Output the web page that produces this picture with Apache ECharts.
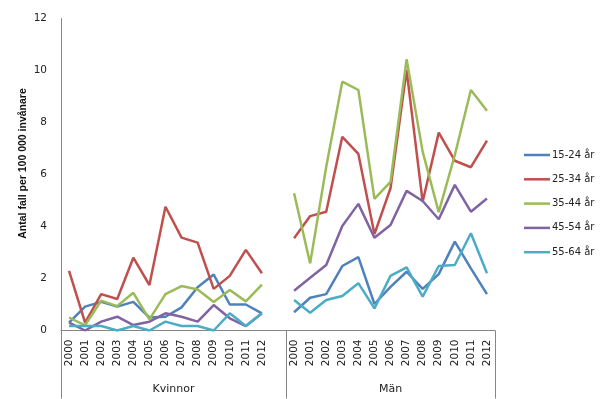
<!DOCTYPE html>
<html>
<head>
<meta charset="utf-8">
<script src="https://cdn.jsdelivr.net/npm/echarts@6/dist/echarts.min.js"></script>
<style>
  html, body { margin: 0; padding: 0; background: #fff; }
  #chart { width: 609px; height: 399px; }
</style>
</head>
<body>
<div id="chart"></div>
<script>
// years per group, a blank slot separates Kvinnor from Män
var years = ['2000','2001','2002','2003','2004','2005','2006','2007','2008','2009','2010','2011','2012']
var categories = years.concat(['']).concat(years)
var groupNames = ['Kvinnor', 'Män']
var seriesNames = ['15-24 år', '25-34 år', '35-44 år', '45-54 år', '55-64 år']
var yTicks = [0, 2, 4, 6, 8, 10, 12]

// Kvinnor 2000-2012
var k1524 = [0.3, 0.92, 1.1, 0.92, 1.1, 0.5, 0.53, 0.89, 1.66, 2.15, 1.0, 1.0, 0.66]
var k2534 = [2.29, 0.3, 1.4, 1.21, 2.8, 1.75, 4.76, 3.57, 3.38, 1.6, 2.1, 3.1, 2.2]
var k3544 = [0.5, 0.2, 1.15, 0.94, 1.45, 0.43, 1.4, 1.71, 1.58, 1.1, 1.56, 1.12, 1.76]
var k4554 = [0.3, 0.0, 0.34, 0.53, 0.21, 0.34, 0.66, 0.53, 0.34, 0.98, 0.47, 0.17, 0.66]
var k5564 = [0.17, 0.17, 0.17, 0.0, 0.17, 0.0, 0.34, 0.17, 0.17, 0.0, 0.66, 0.17, 0.66]

// Män 2000-2012
var m1524 = [0.7, 1.26, 1.4, 2.48, 2.82, 1.02, 1.68, 2.26, 1.6, 2.17, 3.42, 2.39, 1.4]
var m2534 = [3.55, 4.4, 4.57, 7.45, 6.79, 3.71, 5.47, 10.02, 4.95, 7.61, 6.53, 6.28, 7.3]
var m3544 = [5.28, 2.58, 6.3, 9.57, 9.25, 5.06, 5.72, 10.43, 6.88, 4.55, 6.75, 9.25, 8.45]
var m4554 = [1.53, 2.03, 2.52, 4.02, 4.87, 3.57, 4.06, 5.37, 4.98, 4.28, 5.6, 4.57, 5.08]
var m5564 = [1.17, 0.68, 1.17, 1.33, 1.82, 0.85, 2.1, 2.43, 1.3, 2.48, 2.52, 3.74, 2.2]

var colors = ['#4F81BD', '#C0504D', '#9BBB59', '#8064A2', '#4BACC6']
var kvinnor = [k1524, k2534, k3544, k4554, k5564]
var man = [m1524, m2534, m3544, m4554, m5564]

// second level axis: half-band steps so group labels and dividers land on points
var groupSlots = []
for (var i = 0; i <= categories.length * 2; i++) groupSlots.push('')
var kvinnorSlot = 14, manSlot = 41
groupSlots[kvinnorSlot] = groupNames[0]
groupSlots[manSlot] = groupNames[1]
var dividerSlots = [0, 28, categories.length * 2]

var chart = echarts.init(document.getElementById('chart'))

chart.setOption({
  animation: false,
  color: colors,
  textStyle: { fontFamily: 'DejaVu Sans' },
  grid: { left: 61, right: 114, top: 18.5, bottom: 68.5 },
  legend: {
    orient: 'vertical',
    left: 519,
    top: 143,
    itemWidth: 26,
    itemHeight: 2.5,
    itemGap: 10.3,
    icon: 'rect',
    data: seriesNames,
    textStyle: { fontSize: 10, color: '#222', lineHeight: 14, padding: [0, 0, 0, -3] }
  },
  xAxis: [{
    type: 'category',
    data: categories,
    axisLine: { lineStyle: { color: '#868686', width: 1 } },
    axisTick: { show: false },
    axisLabel: {
      rotate: 90,
      interval: 0,
      margin: 9,
      fontSize: 10.5,
      color: '#222'
    }
  }, {
    type: 'category',
    data: groupSlots,
    boundaryGap: false,
    position: 'bottom',
    axisLine: { show: false },
    axisTick: {
      show: true,
      length: 68,
      interval: function (idx) { return dividerSlots.indexOf(idx) >= 0 },
      lineStyle: { color: '#868686', width: 1 }
    },
    axisLabel: {
      interval: function (idx) { return idx === kvinnorSlot || idx === manSlot },
      margin: 53,
      fontSize: 11,
      color: '#222'
    }
  }],
  yAxis: {
    type: 'value',
    min: yTicks[0],
    max: yTicks[yTicks.length - 1],
    interval: 2,
    splitLine: { show: false },
    axisLine: { show: true, lineStyle: { color: '#868686', width: 1 } },
    axisTick: { show: false },
    axisLabel: { margin: 14, fontSize: 10.5, color: '#222' },
    name: 'Antal fall per 100 000 invånare',
    nameLocation: 'middle',
    nameGap: 32,
    nameMoveOverlap: false,
    nameTextStyle: {
      fontFamily: 'Liberation Sans',
      fontWeight: 'bold',
      fontSize: 10.5,
      color: '#111',
      padding: [0, 0, 0, 22]
    }
  },
  series: seriesNames.map(function (name, s) {
    return {
      name: name,
      type: 'line',
      xAxisIndex: 0,
      showSymbol: false,
      symbol: 'none',
      connectNulls: false,
      lineStyle: { width: 2.5 },
      data: kvinnor[s].concat([null]).concat(man[s])
    }
  })
})
</script>
</body>
</html>
